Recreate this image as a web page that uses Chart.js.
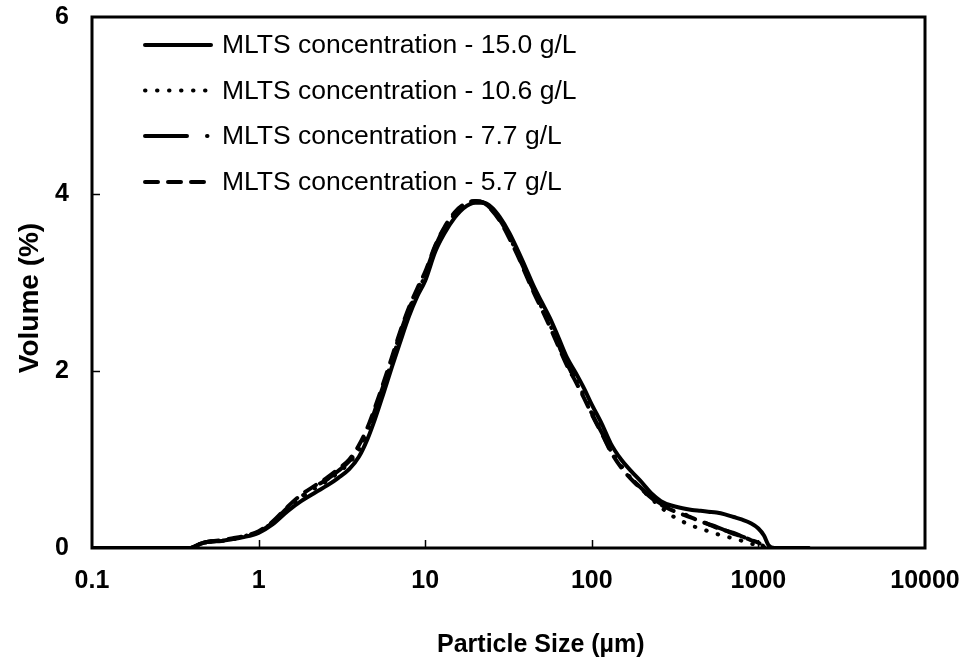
<!DOCTYPE html>
<html>
<head>
<meta charset="utf-8">
<script src="https://cdn.jsdelivr.net/npm/chart.js@4.4.1/dist/chart.umd.min.js"></script>
<style>
  html, body { margin: 0; padding: 0; background: #fff; }
  #wrap { width: 964px; height: 659px; }
</style>
</head>
<body>
<div id="wrap"><canvas id="psd" width="964" height="659"></canvas></div>
<script>
// particle size classes (um) and volume % per MLTS concentration
const sizes = [0.1, 0.2, 0.3, 0.39, 0.45, 0.5, 0.6, 0.7, 0.8,
  1, 1.2, 1.5, 1.8, 2.2, 2.6, 3, 3.5, 4, 4.5,
  5, 5.6, 6.3, 7, 8, 9,
  10, 11.5, 13, 15, 17, 20, 22.5, 25, 28, 32, 36, 40, 45,
  50, 56, 63, 71, 80, 90,
  100, 115, 130, 150, 170, 200, 230, 260, 300, 350, 400, 450,
  500, 560, 630, 710, 800, 900,
  1000, 1080, 1150, 1250, 1500, 2000];

const mlts150 = [0, 0, 0, 0, 0.05, 0.07, 0.08, 0.1, 0.12,
  0.17, 0.26, 0.42, 0.53, 0.63, 0.71, 0.79, 0.89, 1.03, 1.23,
  1.46, 1.74, 2.04, 2.3, 2.62, 2.85,
  3.02, 3.35, 3.55, 3.73, 3.84, 3.9, 3.9, 3.85, 3.74, 3.56, 3.36, 3.17, 2.95,
  2.78, 2.6, 2.38, 2.15, 1.98, 1.8,
  1.62, 1.4, 1.18, 1.0, 0.88, 0.74, 0.61, 0.53, 0.48, 0.45, 0.43, 0.42,
  0.41, 0.4, 0.38, 0.35, 0.32, 0.28,
  0.22, 0.14, 0.03, 0, 0, 0];

const mlts106 = [0, 0, 0, 0, 0.05, 0.07, 0.08, 0.1, 0.13,
  0.18, 0.28, 0.45, 0.57, 0.68, 0.76, 0.85, 0.96, 1.11, 1.31,
  1.53, 1.81, 2.11, 2.38, 2.68, 2.9,
  3.08, 3.4, 3.6, 3.77, 3.87, 3.92, 3.9, 3.84, 3.72, 3.52, 3.32, 3.12, 2.9,
  2.72, 2.53, 2.3, 2.08, 1.9, 1.72,
  1.54, 1.32, 1.11, 0.93, 0.8, 0.66, 0.55, 0.46, 0.37, 0.3, 0.25, 0.22,
  0.19, 0.16, 0.13, 0.11, 0.08, 0.05,
  0.03, 0.01, 0, 0, 0, 0];

const mlts77 = [0, 0, 0, 0, 0.05, 0.07, 0.08, 0.1, 0.13,
  0.18, 0.28, 0.46, 0.58, 0.7, 0.78, 0.87, 0.98, 1.13, 1.33,
  1.56, 1.83, 2.12, 2.4, 2.7, 2.92,
  3.1, 3.41, 3.61, 3.78, 3.87, 3.92, 3.9, 3.83, 3.71, 3.52, 3.31, 3.12, 2.9,
  2.72, 2.52, 2.3, 2.08, 1.9, 1.7,
  1.52, 1.3, 1.1, 0.92, 0.8, 0.67, 0.57, 0.5, 0.44, 0.39, 0.35, 0.31,
  0.27, 0.24, 0.2, 0.17, 0.13, 0.09,
  0.05, 0.02, 0, 0, 0, 0];

const mlts57 = [0, 0, 0, 0, 0.05, 0.07, 0.09, 0.11, 0.13,
  0.19, 0.29, 0.47, 0.6, 0.71, 0.8, 0.89, 1.0, 1.16, 1.36,
  1.59, 1.86, 2.15, 2.42, 2.72, 2.94,
  3.12, 3.42, 3.62, 3.79, 3.88, 3.92, 3.9, 3.82, 3.7, 3.5, 3.3, 3.1, 2.88,
  2.7, 2.5, 2.28, 2.06, 1.88, 1.69,
  1.51, 1.29, 1.09, 0.91, 0.79, 0.66, 0.56, 0.49, 0.43, 0.38, 0.34, 0.3,
  0.27, 0.23, 0.2, 0.16, 0.13, 0.09,
  0.06, 0.02, 0, 0, 0, 0];

const seriesLabels = [
  'MLTS concentration - 15.0 g/L',
  'MLTS concentration - 10.6 g/L',
  'MLTS concentration - 7.7 g/L',
  'MLTS concentration - 5.7 g/L'
];

const xTicks = [0.1, 1, 10, 100, 1000, 10000];
const xTickLabels = ['0.1', '1', '10', '100', '1000', '10000'];
const yTicks = [0, 2, 4, 6];

const FONT = '"Liberation Sans", Arial, sans-serif';

const toPoints = (vals) => sizes.map((s, i) => ({ x: s, y: vals[i] }));

// dash styles: solid, dotted, long dash + dot, dashed
const dashes = [[], [0.5, 11.5], [42, 20, 0.5, 20], [13, 10]];

const makeSet = (label, vals, dash) => ({
  label: label,
  data: toPoints(vals),
  borderColor: '#000',
  borderWidth: 4,
  borderDash: dash,
  borderCapStyle: 'round',
  borderJoinStyle: 'round',
  pointRadius: 0,
  fill: false,
  cubicInterpolationMode: 'monotone'
});

// keep the plot box where the layout padding puts it
const noLabelPadding = (scale) => {
  scale.paddingTop = 0;
  scale.paddingBottom = 0;
  scale.paddingLeft = 0;
  scale.paddingRight = 0;
};

// frame, inner tick marks, axis titles and the in-plot legend
const decorPlugin = {
  id: 'decor',
  afterDraw(chart) {
    const { ctx, chartArea: a, scales } = chart;
    ctx.save();
    ctx.strokeStyle = '#000';
    ctx.fillStyle = '#000';

    ctx.lineWidth = 1.5;
    xTicks.slice(1, -1).forEach((v) => {
      const px = Math.round(scales.x.getPixelForValue(v)) + 0.5;
      ctx.beginPath();
      ctx.moveTo(px, a.bottom);
      ctx.lineTo(px, a.bottom - 8);
      ctx.stroke();
    });
    yTicks.slice(1, -1).forEach((v) => {
      const py = Math.round(scales.y.getPixelForValue(v)) + 0.5;
      ctx.beginPath();
      ctx.moveTo(a.left, py);
      ctx.lineTo(a.left + 8, py);
      ctx.stroke();
    });

    ctx.lineWidth = 3;
    ctx.strokeRect(a.left, a.top, a.right - a.left, a.bottom - a.top);

    // axis titles
    ctx.font = 'bold 25px ' + FONT;
    ctx.textAlign = 'left';
    ctx.textBaseline = 'alphabetic';
    ctx.fillText('Particle Size (\u00b5m)', 437, 652);

    ctx.save();
    ctx.translate(38, 298);
    ctx.rotate(-Math.PI / 2);
    ctx.font = 'bold 28px ' + FONT;
    ctx.textAlign = 'center';
    ctx.fillText('Volume (%)', 0, 0);
    ctx.restore();

    // legend
    const rows = [45, 90.5, 136, 182];
    ctx.font = '26.5px ' + FONT;
    ctx.textAlign = 'left';
    ctx.textBaseline = 'middle';
    chart.data.datasets.forEach((ds, i) => {
      const y = rows[i];
      ctx.save();
      ctx.lineWidth = 4;
      ctx.lineCap = 'round';
      ctx.setLineDash(ds.borderDash);
      ctx.beginPath();
      ctx.moveTo(145, y);
      ctx.lineTo(i === 2 ? 208 : 211, y);
      ctx.stroke();
      ctx.restore();
      ctx.fillText(ds.label, 222, y + 1);
    });
    ctx.restore();
  }
};

new Chart(document.getElementById('psd').getContext('2d'), {
  type: 'line',
  data: {
    datasets: [
      makeSet(seriesLabels[0], mlts150, dashes[0]),
      makeSet(seriesLabels[1], mlts106, dashes[1]),
      makeSet(seriesLabels[2], mlts77, dashes[2]),
      makeSet(seriesLabels[3], mlts57, dashes[3])
    ]
  },
  options: {
    responsive: false,
    animation: false,
    layout: { padding: { left: 0, right: 39, top: 17, bottom: 0 } },
    plugins: {
      legend: { display: false },
      tooltip: { enabled: false }
    },
    scales: {
      x: {
        type: 'logarithmic',
        min: 0.1,
        max: 10000,
        afterBuildTicks: (scale) => { scale.ticks = xTicks.map((v) => ({ value: v })); },
        afterFit: (scale) => { scale.height = 111; noLabelPadding(scale); },
        grid: { display: false, drawTicks: false },
        border: { display: false },
        ticks: {
          color: '#000',
          padding: 18,
          maxRotation: 0,
          autoSkip: false,
          font: { family: FONT, size: 25, weight: 'bold' },
          callback: (value, index) => xTickLabels[index]
        }
      },
      y: {
        type: 'linear',
        min: 0,
        max: 6,
        afterBuildTicks: (scale) => { scale.ticks = yTicks.map((v) => ({ value: v })); },
        afterFit: (scale) => { scale.width = 92; noLabelPadding(scale); },
        grid: { display: false, drawTicks: false },
        border: { display: false },
        ticks: {
          color: '#000',
          padding: 23,
          font: { family: FONT, size: 25, weight: 'bold' },
          callback: (value) => String(value)
        }
      }
    }
  },
  plugins: [decorPlugin]
});
</script>
</body>
</html>
